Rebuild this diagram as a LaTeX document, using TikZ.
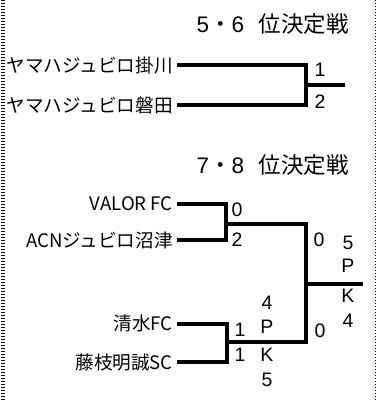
\documentclass[tikz,border=0pt]{standalone}
\usepackage{fontspec}
\setmainfont{Noto Sans CJK JP}
\newfontfamily\latf{Liberation Sans}
\begin{document}
\begin{tikzpicture}[x=1pt,y=-1pt,
  team/.style={anchor=east,inner xsep=4pt,inner ysep=0pt,font=\fontsize{18.6pt}{18.6pt}\selectfont},
  ttl/.style={anchor=base east,inner sep=0pt,font=\fontsize{22.5pt}{22.5pt}\selectfont},
  score/.style={inner sep=0pt,font=\latf\fontsize{19.5pt}{19.5pt}\selectfont},
  bline/.style={line width=4pt},
  border/.style={dash pattern=on 1.3pt off 1.7pt}
]
\useasboundingbox (0,0) rectangle (377,402);
\draw[border,line width=4pt] (2.7,0) -- (2.7,402);
\draw[border,line width=1.5pt] (375.5,0) -- (375.5,402);

% 5-6
\node[ttl] (t56) at (349,32) {{\latf 5}・{\latf 6}\hspace{0.65em}位決定戦};
\node[team] (k) at (177,65.3) {ヤマハジュビロ掛川};
\node[team] (i) at (177,105) {ヤマハジュビロ磐田};
\coordinate (j1) at (306.3,84.5);
\coordinate (w1) at (344.5,84.5);
\draw[bline] (k.east) -| (j1) |- (i.east);
\draw[bline] (j1) -- (w1);
\node[score] (s1) at (320,70) {1};
\node[score] (s2) at (320,102) {2};

% 7-8
\node[ttl] (t78) at (349,173) {{\latf 7}・{\latf 8}\hspace{0.65em}位決定戦};
\node[team] (v) at (177,203.5) {VALOR FC};
\node[team] (a) at (177,240) {ACNジュビロ沼津};
\coordinate (j2) at (226,223.5);
\draw[bline] (v.east) -| (j2) |- (a.east);
\node[team] (sh) at (177,323.8) {清水FC};
\node[team] (fu) at (177,362) {藤枝明誠SC};
\coordinate (j3) at (227,341.7);
\draw[bline] (sh.east) -| (j3) |- (fu.east);
\coordinate (j4) at (305.8,283.5);
\coordinate (w2) at (363,283.5);
\draw[bline] (j2) -| (j4) |- (j3);
\draw[bline] (j4) -- (w2);

\node[score] (a1) at (237,210) {0};
\node[score] (a2) at (237,240) {2};
\node[score] (a3) at (319,239.5) {0};
\node[score] (p1) at (348,242.5) {5};
\node[score] (p2) at (348,265.5) {P};
\node[score] (p3) at (348,296) {K};
\node[score] (p4) at (348,320.5) {4};
\node[score] (b1) at (240,330) {1};
\node[score] (b2) at (240,355) {1};
\node[score] (q1) at (267,303) {4};
\node[score] (q2) at (267,327) {P};
\node[score] (q3) at (267,355) {K};
\node[score] (q4) at (267,380) {5};
\node[score] (b3) at (320,330.5) {0};
\end{tikzpicture}
\end{document}
